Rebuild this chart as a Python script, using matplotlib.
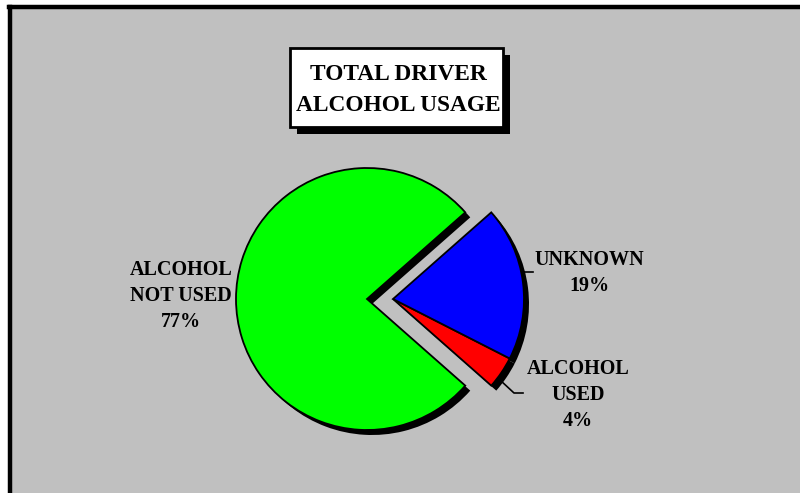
import matplotlib
matplotlib.use("Agg")
from matplotlib import pyplot as plt
from matplotlib.patches import Rectangle

# data
categories = ["ALCOHOL\nNOT USED", "ALCOHOL\nUSED", "UNKNOWN"]
shares = [77, 4, 19]
colors = ["#00FF00", "#FF0000", "#0000FF"]
title = "TOTAL DRIVER\nALCOHOL USAGE"

W, H = 800, 493
fig = plt.figure(figsize=(W / 100, H / 100), dpi=100)
fig.patch.set_facecolor("white")
ax = fig.add_axes([0, 0, 1, 1])

serif = ["Liberation Serif", "DejaVu Serif"]

# pixel -> data (y up)
def py(y):
    return H - y

# background panel with black frame (top and left visible)
ax.add_patch(Rectangle((8, -10), W + 20, py(5) + 10, fc="#C0C0C0", ec="none", zorder=0))
ax.plot([10, 10], [-5, py(7)], color="black", lw=3.2, zorder=1)
ax.plot([8.8, W + 5], [py(7), py(7)], color="black", lw=3.2, zorder=1)

cx, cy, r = 367, py(299), 131
shift = 26
start = 180 - shares[0] / 100 * 180

# shadow pie
shadow, _ = ax.pie(shares, startangle=start, radius=r, center=(cx + 5, cy - 5),
                   colors=["black"] * 3, wedgeprops=dict(lw=0))
wedges, _ = ax.pie(shares, startangle=start, radius=r, center=(cx, cy),
                   colors=colors, wedgeprops=dict(ec="black", lw=1.3))
for w in shadow:
    w.set_zorder(2)
for w in wedges:
    w.set_zorder(3)
# pull the small slices out horizontally as a group
for i in (1, 2):
    for w in (shadow[i], wedges[i]):
        c = w.center
        w.set_center((c[0] + shift, c[1]))

# labels
lab = dict(ha="center", va="center", family=serif, weight="bold",
           fontsize=14.5, linespacing=1.38, zorder=5)
ax.text(181, py(296), categories[0] + "\n%d%%" % shares[0], **lab)
ax.text(589, py(273), categories[2] + "\n%d%%" % shares[2], **lab)
ax.text(578, py(395), categories[1] + "\n%d%%" % shares[1], **lab)

# leader lines
ax.plot([524, 533], [py(272), py(272)], color="black", lw=1.2, zorder=4)
ax.plot([500, 514, 523], [py(380), py(393), py(393)], color="black", lw=1.2, zorder=4)

# title box with shadow
ax.add_patch(Rectangle((297, py(134)), 213, 79, fc="black", ec="none", zorder=6))
ax.add_patch(Rectangle((290, py(127)), 213, 79, fc="white", ec="black", lw=2, zorder=7))
ax.text(398, py(90), title, ha="center", va="center", family=serif, weight="bold",
        fontsize=16.8, linespacing=1.6, zorder=8)

ax.set_xlim(0, W)
ax.set_ylim(0, H)
ax.set_aspect("auto")
ax.axis("off")

fig.savefig("out.png", dpi=100, facecolor=fig.get_facecolor())
